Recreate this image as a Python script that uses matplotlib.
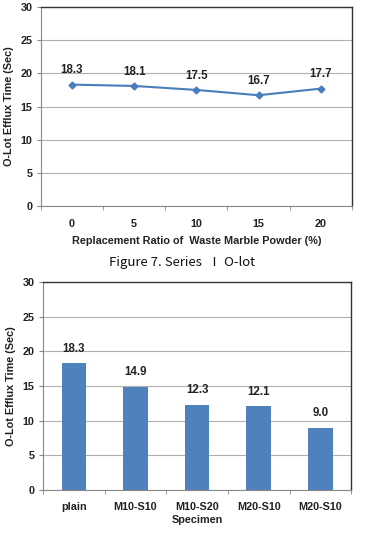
import matplotlib
matplotlib.use("Agg")
import matplotlib.pyplot as plt
import numpy as np

ratio_labels = ["0", "5", "10", "15", "20"]
ratio_values = [18.3, 18.1, 17.5, 16.7, 17.7]
specimens = ["plain", "M10-S10", "M10-S20", "M20-S10", "M20-S10"]
specimen_values = [18.3, 14.9, 12.3, 12.1, 9.0]
yticks = [0, 5, 10, 15, 20, 25, 30]

txt = "#222222"
plt.rcParams['font.family'] = ['Liberation Sans', 'DejaVu Sans']
FS = 7.8

fig = plt.figure(figsize=(3.65, 5.34), dpi=100)

def style(ax):
    ax.set_ylim(0, 30)
    ax.set_yticks(yticks)
    ax.grid(axis='y', color='#b0b0b0', linewidth=0.8)
    ax.set_axisbelow(True)
    for s in ['top', 'right']:
        ax.spines[s].set_color('#333333')
        ax.spines[s].set_linewidth(1.0)
    for s in ['left', 'bottom']:
        ax.spines[s].set_color('#888888')
        ax.spines[s].set_linewidth(0.8)
    ax.tick_params(axis='y', length=3, color='#888888', labelsize=FS, labelcolor=txt, pad=3)
    ax.tick_params(axis='x', length=0, labelsize=FS, labelcolor=txt, pad=9)
    for lab in ax.get_yticklabels() + ax.get_xticklabels():
        lab.set_fontweight('bold')
    ax.set_xlim(-0.5, 4.5)
    ax.set_xticks(np.arange(-0.5, 5, 1), minor=True)
    ax.tick_params(axis='x', which='minor', length=3, color='#888888', direction='out')
    ax.set_ylabel("O-Lot Efflux Time (Sec)", fontsize=FS, fontweight='bold', color=txt, labelpad=5)

# Top line chart
ax1 = fig.add_axes([0.112, 0.614, 0.852, 0.373])
x = np.arange(len(ratio_values))
ax1.plot(x, ratio_values, color='#4a7ebb', linewidth=1.5, marker='D', markersize=3.5,
         markerfacecolor='#4a7ebb', markeredgecolor='#4a7ebb')
ax1.set_xticks(x)
ax1.set_xticklabels(ratio_labels)
style(ax1)
for xi, v in zip(x, ratio_values):
    ax1.annotate(f"{v:.1f}", (xi, v), xytext=(0, 6), textcoords='offset points',
                 ha='center', va='bottom', fontsize=FS + 0.5, fontweight='bold', color=txt)
ax1.set_xlabel("Replacement Ratio of  Waste Marble Powder (%)", fontsize=FS,
               fontweight='bold', color=txt, labelpad=5)

fig.text(0.5, 0.509, "Figure 7. Series  Ⅰ O-lot", ha='center', va='center',
         fontsize=9.5, color='#111111', family=['Noto Sans CJK KR', 'DejaVu Sans'])

# Bottom bar chart
ax2 = fig.add_axes([0.118, 0.0824, 0.844, 0.3896])
xb = np.arange(len(specimen_values))
ax2.bar(xb, specimen_values, width=0.4, color='#4f81bd')
ax2.set_xticks(xb)
ax2.set_xticklabels(specimens)
style(ax2)
for xi, v in zip(xb, specimen_values):
    ax2.annotate(f"{v:.1f}", (xi, v), xytext=(0, 6), textcoords='offset points',
                 ha='center', va='bottom', fontsize=FS + 0.5, fontweight='bold', color=txt)
ax2.set_xlabel("Specimen", fontsize=FS, fontweight='bold', color=txt, labelpad=2)

fig.savefig("out.png", dpi=100)
